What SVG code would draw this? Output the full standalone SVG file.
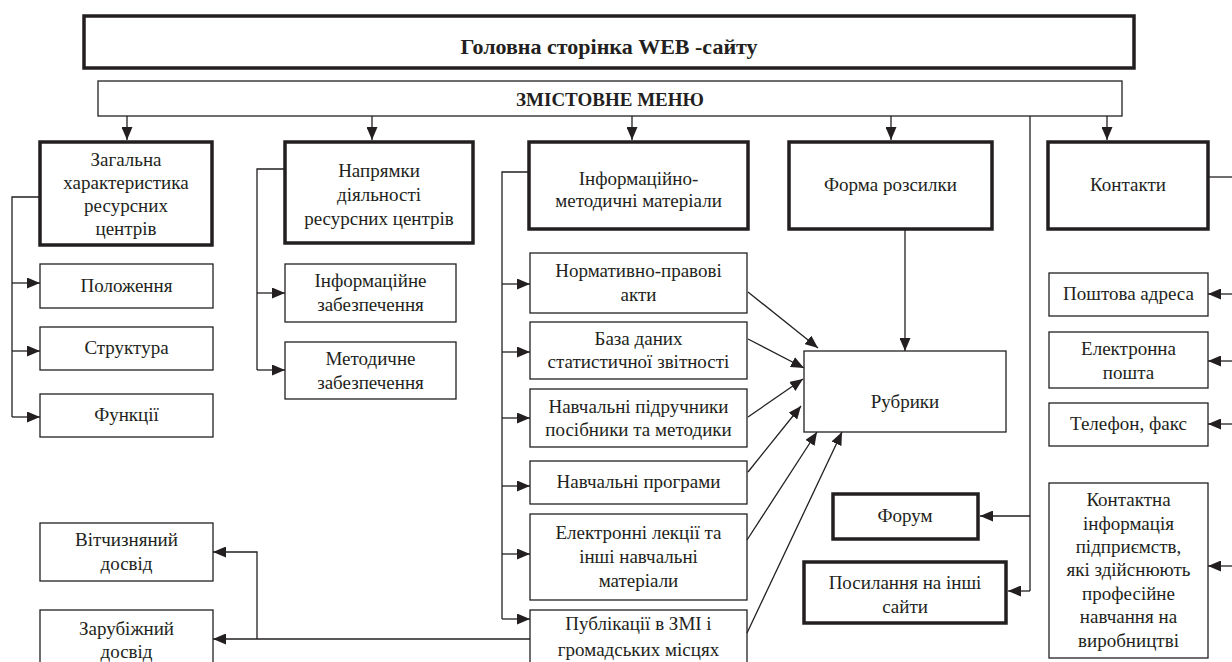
<svg xmlns="http://www.w3.org/2000/svg" width="1232" height="662" viewBox="0 0 1232 662">
<style>
text{font-family:"Liberation Serif","Times New Roman",serif;font-size:19px;fill:#231f20;text-anchor:middle}
.b{font-weight:bold}
.thick{fill:#fff;stroke:#231f20;stroke-width:3.5}
.thin{fill:#fff;stroke:#231f20;stroke-width:1.3}
.c path{fill:none;stroke:#231f20;stroke-width:1.3}
</style>
<defs>
<marker id="a" markerUnits="userSpaceOnUse" markerWidth="13" markerHeight="11" viewBox="0 0 13 11" refX="13" refY="5.5" orient="auto">
<path d="M0,0 L13,5.5 L0,11 Z" fill="#231f20"/>
</marker>
</defs>
<g id="title"><rect class="thick" x="84" y="16" width="1050" height="52"/><text class="b" x="609" y="54" style="font-size:22px">Головна сторінка WEB -сайту</text></g>
<g id="menu"><rect class="thin" x="98" y="81" width="1024" height="35"/><text class="b" x="610" y="106" style="font-size:19px">ЗМІСТОВНЕ МЕНЮ</text></g>
<g id="n1"><rect class="thick" x="40" y="142" width="172" height="103"/><text x="126" y="166">Загальна</text><text x="126" y="189">характеристика</text><text x="126" y="212">ресурсних</text><text x="126" y="235">центрів</text></g>
<g id="n2"><rect class="thick" x="285" y="142" width="188" height="101"/><text x="379" y="177">Напрямки</text><text x="379" y="201">діяльності</text><text x="379" y="225">ресурсних центрів</text></g>
<g id="n3"><rect class="thick" x="529" y="142" width="219" height="87"/><text x="638.5" y="185">Інформаційно-</text><text x="638.5" y="207">методичні матеріали</text></g>
<g id="n4"><rect class="thick" x="789" y="142" width="203" height="87"/><text x="890.5" y="191">Форма розсилки</text></g>
<g id="n5"><rect class="thick" x="1048" y="142" width="160" height="87"/><text x="1128" y="191">Контакти</text></g>
<g id="s1"><rect class="thin" x="40" y="264" width="173" height="44"/><text x="126.5" y="292">Положення</text></g>
<g id="s2"><rect class="thin" x="40" y="327" width="173" height="43"/><text x="126.5" y="354">Структура</text></g>
<g id="s3"><rect class="thin" x="40" y="394" width="173" height="43"/><text x="126.5" y="421">Функції</text></g>
<g id="s4"><rect class="thin" x="285" y="264" width="171" height="58"/><text x="370.5" y="287">Інформаційне</text><text x="370.5" y="311">забезпечення</text></g>
<g id="s5"><rect class="thin" x="285" y="342" width="171" height="57"/><text x="370.5" y="365">Методичне</text><text x="370.5" y="389">забезпечення</text></g>
<g id="m1"><rect class="thin" x="530" y="253" width="217" height="60"/><text x="638.5" y="277">Нормативно-правові</text><text x="638.5" y="301">акти</text></g>
<g id="m2"><rect class="thin" x="530" y="322" width="217" height="57"/><text x="638.5" y="345">База даних</text><text x="638.5" y="368">статистичної звітності</text></g>
<g id="m3"><rect class="thin" x="530" y="389" width="217" height="58"/><text x="638.5" y="413">Навчальні підручники</text><text x="638.5" y="436">посібники та методики</text></g>
<g id="m4"><rect class="thin" x="530" y="461" width="217" height="43"/><text x="638.5" y="488">Навчальні програми</text></g>
<g id="m5"><rect class="thin" x="530" y="514" width="217" height="86"/><text x="638.5" y="539">Електронні лекції та</text><text x="638.5" y="563">інші навчальні</text><text x="638.5" y="587">матеріали</text></g>
<g id="m6"><rect class="thin" x="530" y="610" width="217" height="60"/><text x="638.5" y="630">Публікації в ЗМІ і</text><text x="638.5" y="656">громадських місцях</text></g>
<g id="d1"><rect class="thin" x="40" y="523" width="173" height="58"/><text x="126.5" y="546">Вітчизняний</text><text x="126.5" y="570">досвід</text></g>
<g id="d2"><rect class="thin" x="40" y="610" width="173" height="60"/><text x="126.5" y="635">Зарубіжний</text><text x="126.5" y="658">досвід</text></g>
<g id="rub"><rect class="thin" x="804" y="351" width="202" height="81"/><text x="905" y="408">Рубрики</text></g>
<g id="forum"><rect class="thick" x="833" y="494" width="145" height="45"/><text x="905" y="522">Форум</text></g>
<g id="links"><rect class="thick" x="804" y="562" width="202" height="61"/><text x="905" y="589">Посилання на інші</text><text x="905" y="613">сайти</text></g>
<g id="k1"><rect class="thin" x="1049" y="273" width="159" height="43"/><text x="1128.5" y="300">Поштова адреса</text></g>
<g id="k2"><rect class="thin" x="1049" y="332" width="159" height="56"/><text x="1128.5" y="355">Електронна</text><text x="1128.5" y="379">пошта</text></g>
<g id="k3"><rect class="thin" x="1049" y="403" width="159" height="43"/><text x="1128.5" y="430">Телефон, факс</text></g>
<g id="k4"><rect class="thin" x="1049" y="483" width="159" height="175"/><text x="1128.5" y="506">Контактна</text><text x="1128.5" y="530">інформація</text><text x="1128.5" y="553">підприємств,</text><text x="1128.5" y="576">які здійснюють</text><text x="1128.5" y="600">професійне</text><text x="1128.5" y="623">навчання на</text><text x="1128.5" y="647">виробництві</text></g>
<g class="c" id="connectors">
<path d="M127 116V140" marker-end="url(#a)"/>
<path d="M372 116V140" marker-end="url(#a)"/>
<path d="M632 116V140" marker-end="url(#a)"/>
<path d="M891 116V140" marker-end="url(#a)"/>
<path d="M1107 116V140" marker-end="url(#a)"/>
<path d="M1030 116V591"/>
<path d="M1030 516H980" marker-end="url(#a)"/>
<path d="M1030 591H1008" marker-end="url(#a)"/>
<path d="M40 197H12V417"/>
<path d="M12 283H40" marker-end="url(#a)"/>
<path d="M12 351H40" marker-end="url(#a)"/>
<path d="M12 417H40" marker-end="url(#a)"/>
<path d="M285 169H257V370"/>
<path d="M257 293H285" marker-end="url(#a)"/>
<path d="M257 370H285" marker-end="url(#a)"/>
<path d="M529 172H502V619"/>
<path d="M502 284H530" marker-end="url(#a)"/>
<path d="M502 352H530" marker-end="url(#a)"/>
<path d="M502 418H530" marker-end="url(#a)"/>
<path d="M502 486H530" marker-end="url(#a)"/>
<path d="M502 554H530" marker-end="url(#a)"/>
<path d="M502 619H530" marker-end="url(#a)"/>
<path d="M530 639H213" marker-end="url(#a)"/>
<path d="M257 639V552H213" marker-end="url(#a)"/>
<path d="M905 229V351" marker-end="url(#a)"/>
<path d="M748 292L818 348" marker-end="url(#a)"/>
<path d="M748 339L804 368" marker-end="url(#a)"/>
<path d="M748 417L803 379" marker-end="url(#a)"/>
<path d="M748 472L801 406" marker-end="url(#a)"/>
<path d="M747 540L817 432" marker-end="url(#a)"/>
<path d="M747 633L842 432" marker-end="url(#a)"/>
<path d="M1208 177H1232"/>
<path d="M1232 294H1208" marker-end="url(#a)"/>
<path d="M1232 361H1208" marker-end="url(#a)"/>
<path d="M1232 424H1208" marker-end="url(#a)"/>
<path d="M1232 566H1208" marker-end="url(#a)"/>
</g>
</svg>
